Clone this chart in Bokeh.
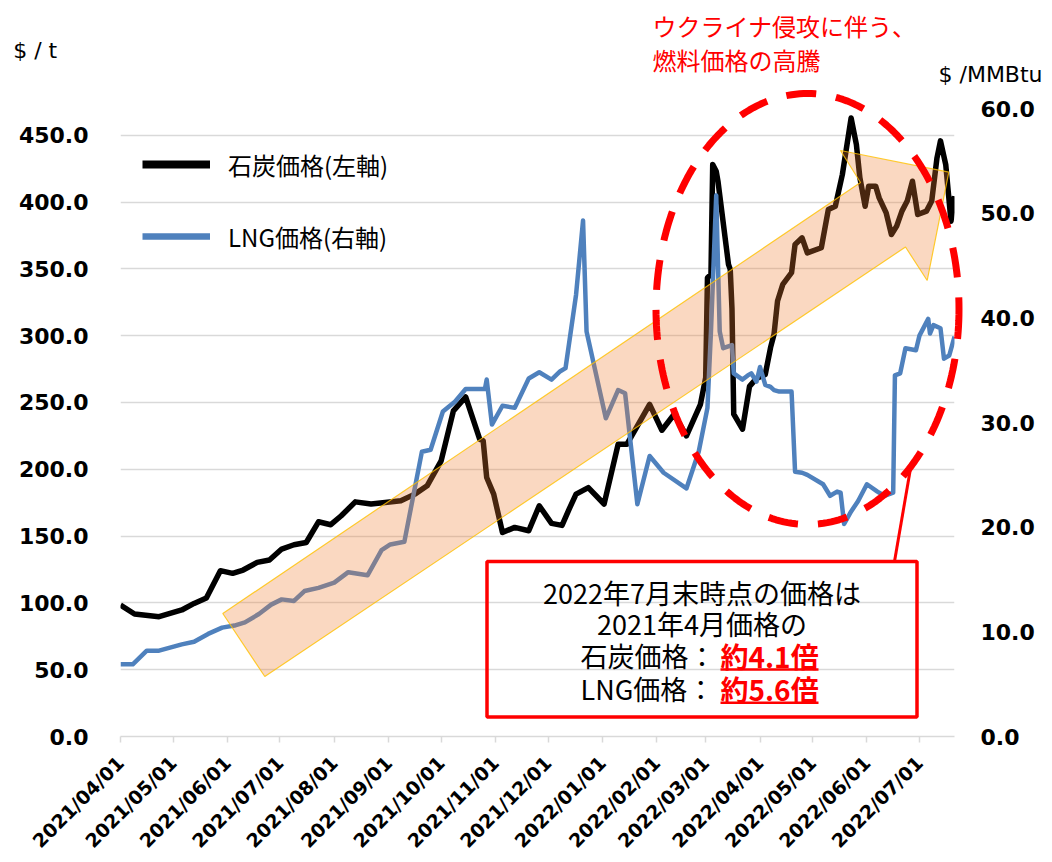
import numpy as np
import pandas as pd
from bokeh.plotting import figure
from bokeh.models import (Range1d, LinearAxis, FixedTicker, NumeralTickFormatter, MonthsTicker,
                          DatetimeTickFormatter, Label, PolyAnnotation, BoxAnnotation, Arrow,
                          Legend, LegendItem)
from bokeh.core.properties import value
from bokeh.embed import file_html
from bokeh.resources import INLINE

# ---------------- data ----------------
COAL_DATES = [
    "2021-04-01", "2021-04-09", "2021-04-23", "2021-05-06", "2021-05-13", "2021-05-20",
    "2021-05-28", "2021-06-04", "2021-06-10", "2021-06-18", "2021-06-25", "2021-07-02",
    "2021-07-09", "2021-07-16", "2021-07-23", "2021-07-30", "2021-08-05", "2021-08-13",
    "2021-08-22", "2021-08-30", "2021-09-08", "2021-09-16", "2021-09-23", "2021-10-01",
    "2021-10-08", "2021-10-15", "2021-10-23", "2021-10-25", "2021-10-27", "2021-10-31",
    "2021-11-05", "2021-11-12", "2021-11-20", "2021-11-26", "2021-12-03", "2021-12-09",
    "2021-12-13", "2021-12-17", "2021-12-24", "2022-01-02", "2022-01-10", "2022-01-15",
    "2022-01-28", "2022-02-04", "2022-02-11", "2022-02-18", "2022-02-26", "2022-03-01",
    "2022-03-02", "2022-03-04", "2022-03-05", "2022-03-07", "2022-03-08", "2022-03-14",
    "2022-03-15", "2022-03-16", "2022-03-17", "2022-03-22", "2022-03-26", "2022-03-30",
    "2022-04-04", "2022-04-07", "2022-04-09", "2022-04-11", "2022-04-14", "2022-04-19",
    "2022-04-21", "2022-04-25", "2022-04-28", "2022-05-06", "2022-05-10", "2022-05-14",
    "2022-05-18", "2022-05-23", "2022-05-26", "2022-05-28", "2022-05-31", "2022-06-02",
    "2022-06-06", "2022-06-08", "2022-06-12", "2022-06-15", "2022-06-18", "2022-06-21",
    "2022-06-24", "2022-06-27", "2022-06-30", "2022-07-05", "2022-07-08", "2022-07-11",
    "2022-07-13", "2022-07-16", "2022-07-19", "2022-07-21",
]
COAL_PRICE = [
    98.4, 91.7, 89.7, 94.7, 99.6, 103.7,
    124.1, 122.1, 124.6, 130.3, 132.1, 140.3,
    143.5, 145.2, 160.7, 158.5, 165.2, 175.6,
    174.0, 175.1, 176.4, 181.4, 187.6, 206.3,
    243.7, 254.1, 222.5, 221.3, 193.8, 181.4,
    152.7, 156.5, 154.0, 172.7, 159.5, 158.0,
    170.0, 181.4, 186.3, 174.0, 218.7, 218.7,
    248.6, 229.2, 241.2, 225.0, 248.6, 268.6,
    343.3, 345.8, 428.0, 423.0, 415.6, 353.3,
    349.6, 320.0, 241.2, 230.0, 262.0, 268.0,
    271.0, 291.0, 301.0, 325.9, 338.4, 347.1,
    368.3, 373.2, 362.0, 365.8, 394.4, 396.9,
    420.6, 462.9, 443.0, 418.1, 396.9, 411.9,
    411.9, 403.1, 391.9, 375.7, 382.0, 393.2,
    400.7, 415.6, 390.7, 393.2, 400.7, 433.0,
    445.8, 428.0, 385.7, 404.4,
]
LNG_DATES = [
    "2021-04-01", "2021-04-08", "2021-04-16", "2021-04-23", "2021-05-06", "2021-05-13",
    "2021-05-21", "2021-05-29", "2021-06-05", "2021-06-11", "2021-06-19", "2021-06-26",
    "2021-07-02", "2021-07-09", "2021-07-15", "2021-07-23", "2021-08-01", "2021-08-09",
    "2021-08-20", "2021-08-28", "2021-09-02", "2021-09-10", "2021-09-20", "2021-09-25",
    "2021-10-02", "2021-10-09", "2021-10-15", "2021-10-26", "2021-10-27", "2021-10-30",
    "2021-11-05", "2021-11-12", "2021-11-20", "2021-11-26", "2021-12-03", "2021-12-08",
    "2021-12-11", "2021-12-17", "2021-12-21", "2021-12-23", "2022-01-03", "2022-01-10",
    "2022-01-14", "2022-01-21", "2022-01-28", "2022-02-05", "2022-02-18", "2022-02-25",
    "2022-03-02", "2022-03-04", "2022-03-07", "2022-03-09", "2022-03-11", "2022-03-16",
    "2022-03-17", "2022-03-22", "2022-03-25", "2022-03-27", "2022-03-30", "2022-04-01",
    "2022-04-04", "2022-04-07", "2022-04-09", "2022-04-12", "2022-04-19", "2022-04-21",
    "2022-04-25", "2022-04-28", "2022-05-07", "2022-05-11", "2022-05-15", "2022-05-17",
    "2022-05-19", "2022-05-23", "2022-05-27", "2022-06-01", "2022-06-07", "2022-06-11",
    "2022-06-16", "2022-06-17", "2022-06-20", "2022-06-23", "2022-06-29", "2022-07-01",
    "2022-07-06", "2022-07-07", "2022-07-09", "2022-07-13", "2022-07-15", "2022-07-18",
    "2022-07-21",
]
LNG_PRICE = [
    6.9, 6.9, 8.2, 8.2, 8.8, 9.05,
    9.8, 10.4, 10.6, 10.9, 11.7, 12.6,
    13.1, 12.95, 13.9, 14.2, 14.7, 15.7,
    15.4, 17.8, 18.35, 18.6, 27.2, 27.4,
    31.05, 32.0, 33.2, 33.2, 34.1, 29.8,
    31.6, 31.4, 34.2, 34.8, 34.1, 34.9,
    35.2, 42.2, 49.3, 38.7, 30.4, 33.1,
    32.8, 22.2, 26.8, 25.2, 23.7, 27.2,
    31.4, 38.7, 51.7, 38.7, 37.1, 37.4,
    34.7, 34.1, 34.5, 34.7, 33.9, 35.3,
    33.6, 33.4, 33.1, 32.95, 32.95, 25.3,
    25.2, 25.0, 24.1, 23.0, 23.4, 23.3,
    20.3, 21.5, 22.5, 24.1, 23.4, 23.0,
    23.3, 34.5, 34.7, 37.1, 36.9, 38.3,
    39.9, 38.5, 39.3, 39.0, 36.1, 36.4,
    38.2,
]
SERIES_NAMES = ["石炭価格(左軸)", "LNG価格(右軸)"]
LEFT_TICKS = [0, 50, 100, 150, 200, 250, 300, 350, 400, 450]
RIGHT_TICKS = [0, 10, 20, 30, 40, 50, 60]
X_START, X_END = "2021-04-01", "2022-07-21"
LEFT_MAX, RIGHT_MAX = 470, 60
LEFT_TITLE, RIGHT_TITLE = "$ / t", "$ /MMBtu"
NOTE_TOP = ["ウクライナ侵攻に伴う、", "燃料価格の高騰"]
BOX_LINES = ["2022年7月末時点の価格は", "2021年4月価格の"]
BOX_ROWS = [("石炭価格：", "約4.1倍"), ("LNG価格：", "約5.6倍")]

# ---------------- layout ----------------
W, H = 1052, 862
BL, BR, BT, BB = 120, 98, 108, 126
FW, FH = W - BL - BR, H - BT - BB
x0 = pd.Timestamp(X_START).value / 1e6
x1 = pd.Timestamp(X_END).value / 1e6


def dx(px):
    """page pixel x -> data x (ms)"""
    return x0 + (px - BL) / FW * (x1 - x0)


def dy(py):
    """page pixel y -> left-axis data y"""
    return (BT + FH - py) / FH * LEFT_MAX


JP = "Noto Sans CJK JP"
NUM = "DejaVu Sans"
BLUE = "#4F81BD"
GRID = "#D9D9D9"

p = figure(width=W, height=H, x_axis_type="datetime",
           x_range=Range1d(x0, x1), y_range=Range1d(0, LEFT_MAX),
           output_backend="svg", toolbar_location=None,
           min_border_left=BL, min_border_right=BR, min_border_top=BT, min_border_bottom=BB)
p.extra_y_ranges = {"lng": Range1d(0, RIGHT_MAX)}
p.outline_line_color = None
p.background_fill_color = "white"
p.border_fill_color = "white"

# series
coal = p.line(pd.to_datetime(COAL_DATES), COAL_PRICE, line_color="black", line_width=5.5,
              line_join="round")
lng = p.line(pd.to_datetime(LNG_DATES), LNG_PRICE, y_range_name="lng", line_color=BLUE,
             line_width=4.5, line_join="round")

# legend (samples drawn thicker like the reference; single NaN point so nothing shows in plot)
leg_coal = p.line(pd.to_datetime([X_START]), [np.nan], line_color="black", line_width=8)
leg_lng = p.line(pd.to_datetime([X_START]), [np.nan], line_color=BLUE, line_width=6.5)
legend = Legend(items=[LegendItem(label=SERIES_NAMES[0], renderers=[leg_coal]),
                       LegendItem(label=SERIES_NAMES[1], renderers=[leg_lng])],
                location=(22, 480), glyph_width=68, glyph_height=40, label_height=40,
                spacing=32, padding=0, margin=0, label_standoff=18,
                border_line_color=None, background_fill_alpha=0,
                label_text_font=JP, label_text_font_size="24px", label_text_color="black")
p.add_layout(legend)

# axes
xa = p.xaxis[0]
xa.ticker = MonthsTicker(months=list(range(12)))
xa.formatter = DatetimeTickFormatter(days="%Y/%m/%d", months="%Y/%m/%d", years="%Y/%m/%d")
xa.major_label_orientation = np.pi / 4
xa.major_label_text_font = NUM
xa.major_label_text_font_style = "bold"
xa.major_label_text_font_size = "19px"
xa.major_label_text_color = "black"
xa.axis_line_color = GRID
xa.axis_line_width = 1.5
xa.major_tick_line_color = GRID
xa.major_tick_line_width = 1.5
xa.major_tick_out = 6
xa.major_tick_in = 0
xa.minor_tick_line_color = None
xa.major_label_standoff = 17

ya = p.yaxis[0]
ya.ticker = FixedTicker(ticks=LEFT_TICKS)
ya.formatter = NumeralTickFormatter(format="0.0")
ya.axis_line_color = None
ya.major_tick_line_color = None
ya.minor_tick_line_color = None
ya.major_tick_out = 0
ya.major_tick_in = 0
ya.major_label_standoff = 32
ya.major_label_text_font = NUM
ya.major_label_text_font_style = "bold"
ya.major_label_text_font_size = "22px"
ya.major_label_text_color = "black"

ra = LinearAxis(y_range_name="lng", ticker=FixedTicker(ticks=RIGHT_TICKS),
                formatter=NumeralTickFormatter(format="0.0"))
ra.axis_line_color = None
ra.major_tick_line_color = None
ra.minor_tick_line_color = None
ra.major_tick_out = 0
ra.major_tick_in = 0
ra.major_label_standoff = 26
ra.major_label_text_font = NUM
ra.major_label_text_font_style = "bold"
ra.major_label_text_font_size = "22px"
ra.major_label_text_color = "black"
p.add_layout(ra, "right")

p.xgrid.grid_line_color = None
p.ygrid.ticker = FixedTicker(ticks=LEFT_TICKS)
p.ygrid.grid_line_color = GRID
p.ygrid.grid_line_width = 1.5

# ---------------- annotations ----------------
arrow_px = [(222.3, 613), (860, 182), (840, 150), (948.3, 171.7), (926.7, 280),
            (905, 246.5), (264.3, 676)]
p.add_layout(PolyAnnotation(xs=[dx(a) for a, b in arrow_px], ys=[dy(b) for a, b in arrow_px],
                            fill_color="#ED7D31", fill_alpha=0.3,
                            line_color="#FFC000", line_width=1.2, line_alpha=0.8))

p.add_layout(BoxAnnotation(left=dx(486.5), right=dx(916.5), top=dy(561), bottom=dy(716.5),
                           fill_color=None, fill_alpha=0, line_color="red", line_alpha=1.0,
                           line_width=3.5))
p.add_layout(Arrow(end=None, x_start=dx(894), y_start=dy(561), x_end=dx(910), y_end=dy(468),
                   line_color="red", line_alpha=1.0, line_width=3))

for (left_txt, red_txt), cy in zip(BOX_ROWS, [655, 688.3]):
    p.add_layout(Label(x=dx(580), y=dy(cy), text=left_txt, text_font=JP, text_font_size="27px",
                       text_color="black", text_align="left", text_baseline="middle"))
    p.add_layout(Label(x=dx(720), y=dy(cy), text=red_txt, text_font=JP, text_font_size="28px",
                       text_font_style="bold", text_color="red", text_align="left",
                       text_baseline="middle"))
    p.add_layout(Arrow(end=None, x_start=dx(720), y_start=dy(cy + 14), x_end=dx(818),
                       y_end=dy(cy + 14), line_color="red", line_width=2.5))

for txt, cy in zip(BOX_LINES, [591.7, 623.3]):
    p.add_layout(Label(x=dx(701.5), y=dy(cy), text=txt, text_font=JP, text_font_size="27px",
                       text_color="black", text_align="center", text_baseline="middle"))

# items reaching outside the plot frame: drawn at the "overlay" level (not clipped)
t = np.linspace(0, 2 * np.pi, 241)
ecx, ecy, erx, ery = 807, 308.5, 151.5, 215.5
p.line([dx(ecx + erx * np.cos(a)) for a in t], [dy(ecy + ery * np.sin(a)) for a in t],
       line_color="red", line_width=7, line_dash="30 20", line_cap="butt", level="overlay")

p.text(x=[dx(652), dx(652)], y=[dy(25), dy(59)], text=NOTE_TOP,
       text_font=value(JP), text_font_size="24px", text_color="red",
       text_align="left", text_baseline="middle", level="overlay")
p.text(x=[dx(12.7), dx(938)], y=[dy(50), dy(74)], text=[LEFT_TITLE, RIGHT_TITLE],
       text_font=value(NUM), text_font_size="22px", text_color="black",
       text_align="left", text_baseline="middle", level="overlay")

open("out.html", "w").write(file_html(p, INLINE))
